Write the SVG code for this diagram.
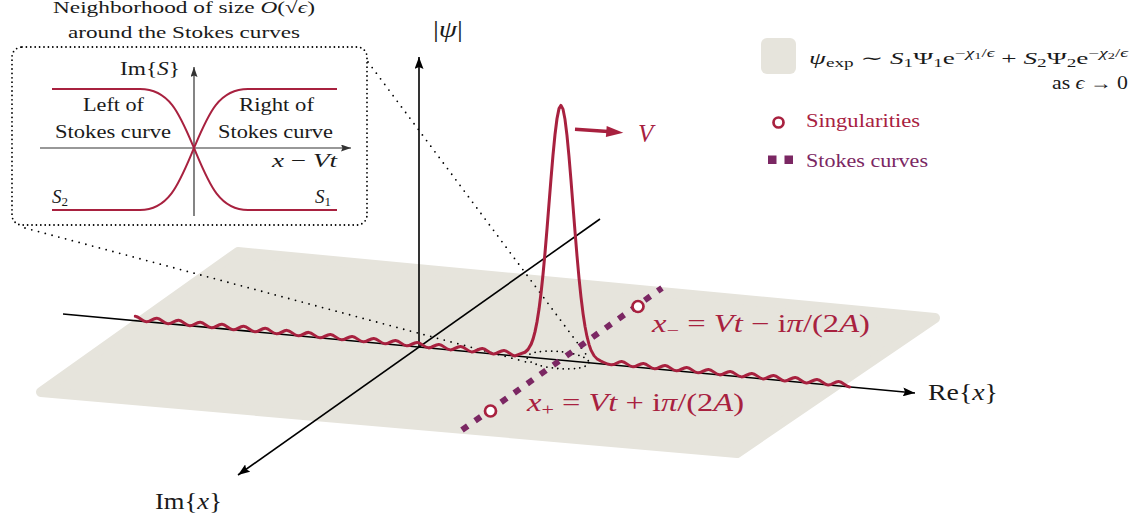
<svg xmlns="http://www.w3.org/2000/svg" width="1140" height="525" viewBox="0 0 1140 525">
<style>
text{font-family:"Liberation Serif","DejaVu Serif",serif;fill:#1a1a1a}
.it{font-style:italic}
.cr{fill:#a8213f}
.pu{fill:#7b2763}
.ax{stroke:#000;stroke-width:1.6;fill:none}
.iax{stroke:#333;stroke-width:1.2;fill:none}
.wave{stroke:#a8213f;stroke-width:3;fill:none;stroke-linejoin:round;stroke-linecap:round}
.icurve{stroke:#a8213f;stroke-width:2;fill:none}
.dots{stroke:#000;stroke-width:1.8;fill:none;stroke-linecap:round}
.sing{fill:#fff;stroke:#a8213f;stroke-width:2.7}
</style>
<defs>
<marker id="ah" viewBox="0 0 12 9" refX="12" refY="4.5" markerWidth="12" markerHeight="9" markerUnits="userSpaceOnUse" orient="auto"><path d="M0,0 L12,4.5 L0,9 L2,4.5 z" fill="#000"/></marker>
<marker id="ahs" viewBox="0 0 10 7" refX="10" refY="3.5" markerWidth="10" markerHeight="7" markerUnits="userSpaceOnUse" orient="auto"><path d="M0,0 L10,3.5 L0,7 L1.5,3.5 z" fill="#333"/></marker>
</defs>

<g id="plane">
<path d="M238,252 L935,318 L737,453 L41,392 Z" fill="#e6e4dc" stroke="#e6e4dc" stroke-width="10" stroke-linejoin="round"/>
</g>

<g id="zoom-lines">
<path class="dots" d="M368,62 L588,357" stroke-dasharray="0 7"/>
<path class="dots" d="M25,228 L530,363" stroke-dasharray="0 7"/>
<ellipse class="dots" cx="558" cy="360" rx="31" ry="8.5" transform="rotate(5 558 360)" stroke-dasharray="0 5.5"/>
</g>

<g id="axes">
<line class="ax" x1="63" y1="314" x2="915" y2="393" marker-end="url(#ah)"/>
<line class="ax" x1="419" y1="347" x2="419" y2="57" marker-end="url(#ah)"/>
<line class="ax" x1="600" y1="219" x2="238" y2="475" marker-end="url(#ah)"/>
<text x="928" y="400" font-size="24" textLength="70" lengthAdjust="spacingAndGlyphs">Re{<tspan class="it">x</tspan>}</text>
<text x="433" y="37" font-size="24" textLength="30" lengthAdjust="spacingAndGlyphs"><tspan>|</tspan><tspan class="it">ψ</tspan><tspan>|</tspan></text>
<text x="155" y="509" font-size="24" textLength="67" lengthAdjust="spacingAndGlyphs">Im{<tspan class="it">x</tspan>}</text>
</g>

<g id="wavefunction" transform="matrix(1 0.0927 0 1 63 314)">
<path class="wave" d="M72.3,-4.4 c3.95,0 6.9,4.4 10.85,4.4 s6.9,-4.4 10.85,-4.4 s6.9,4.4 10.85,4.4 s6.9,-4.4 10.85,-4.4 s6.9,4.4 10.85,4.4 s6.9,-4.4 10.85,-4.4 s6.9,4.4 10.85,4.4 s6.9,-4.4 10.85,-4.4 s6.9,4.4 10.85,4.4 s6.9,-4.4 10.85,-4.4 s6.9,4.4 10.85,4.4 s6.9,-4.4 10.85,-4.4 s6.9,4.4 10.85,4.4 s6.9,-4.4 10.85,-4.4 s6.9,4.4 10.85,4.4 s6.9,-4.4 10.85,-4.4 s6.9,4.4 10.85,4.4 s6.9,-4.4 10.85,-4.4 s6.9,4.4 10.85,4.4 s6.9,-4.4 10.85,-4.4 s6.9,4.4 10.85,4.4 s6.9,-4.4 10.85,-4.4 s6.9,4.4 10.85,4.4 s6.9,-4.4 10.85,-4.4 s6.9,4.4 10.85,4.4 s6.9,-4.4 10.85,-4.4 s6.9,4.4 10.85,4.4 s6.9,-4.4 10.85,-4.4 s6.9,4.4 10.85,4.4 s6.9,-4.4 10.85,-4.4 s6.9,4.4 10.85,4.4 s6.9,-4.4 10.85,-4.4 s6.9,4.4 10.85,4.4 s6.9,-4.4 10.85,-4.4 s6.9,4.4 10.85,4.4 L458,-2.8 L462,-4.6 L465,-7.6 L468,-12.9 L470,-18.4 L472,-26 L474,-36 L476,-48.9 L478,-64.9 L480,-83.9 L482,-105.8 L484,-129.9 L486,-155.3 L488,-180.6 L490,-204.4 L492,-225.1 L494,-241.1 L496,-251.3 L498,-254.8 L500,-251.3 L502,-241.1 L504,-225.1 L506,-204.4 L508,-180.6 L510,-155.3 L512,-129.9 L514,-105.8 L516,-83.9 L518,-64.9 L520,-48.9 L522,-36 L524,-26 L526,-18.4 L528,-12.9 L531,-7.6 L534,-4.6 L538,-2.8 C541,-1.8 543,0 548,0 s6.9,-4.4 10.85,-4.4 s6.9,4.4 10.85,4.4 s6.9,-4.4 10.85,-4.4 s6.9,4.4 10.85,4.4 s6.9,-4.4 10.85,-4.4 s6.9,4.4 10.85,4.4 s6.9,-4.4 10.85,-4.4 s6.9,4.4 10.85,4.4 s6.9,-4.4 10.85,-4.4 s6.9,4.4 10.85,4.4 s6.9,-4.4 10.85,-4.4 s6.9,4.4 10.85,4.4 s6.9,-4.4 10.85,-4.4 s6.9,4.4 10.85,4.4 s6.9,-4.4 10.85,-4.4 s6.9,4.4 10.85,4.4 s6.9,-4.4 10.85,-4.4 s6.9,4.4 10.85,4.4 s6.9,-4.4 10.85,-4.4 s6.9,4.4 10.85,4.4 s6.9,-4.4 10.85,-4.4 s6.9,4.4 10.85,4.4"/>
</g>

<g id="velocity">
<line x1="575" y1="129.3" x2="608" y2="131.6" stroke="#a8213f" stroke-width="3.5"/>
<polygon points="623.3,132.7 606.7,126 605.9,137" fill="#a8213f"/>
<text class="cr it" x="638" y="142" font-size="25">V</text>
</g>

<g id="stokes-curve">
<line x1="462" y1="430" x2="662" y2="288" stroke="#7b2763" stroke-width="6" stroke-dasharray="7 9"/>
</g>

<g id="singularity-minus">
<circle class="sing" cx="638" cy="306.5" r="5.5"/>
<text class="cr" x="652" y="332" font-size="25" textLength="218" lengthAdjust="spacingAndGlyphs"><tspan class="it">x</tspan><tspan font-size="17" dy="4">−</tspan><tspan dy="-4"> = </tspan><tspan class="it">Vt</tspan> − i<tspan class="it">π</tspan>/(2<tspan class="it">A</tspan>)</text>
</g>
<g id="singularity-plus">
<circle class="sing" cx="490.5" cy="411" r="5.5"/>
<text class="cr" x="527" y="411" font-size="25" textLength="217" lengthAdjust="spacingAndGlyphs"><tspan class="it">x</tspan><tspan font-size="17" dy="4">+</tspan><tspan dy="-4"> = </tspan><tspan class="it">Vt</tspan> + i<tspan class="it">π</tspan>/(2<tspan class="it">A</tspan>)</text>
</g>

<g id="inset">
<text x="53" y="13" font-size="17" textLength="262" lengthAdjust="spacingAndGlyphs">Neighborhood of size <tspan class="it">O</tspan>(√<tspan class="it">ϵ</tspan>)</text>
<text x="68" y="38" font-size="17" textLength="232" lengthAdjust="spacingAndGlyphs">around the Stokes curves</text>
<rect class="dots" x="12" y="47" width="355" height="178" rx="10" stroke-dasharray="0 4.4"/>
<line class="iax" x1="40" y1="148" x2="351" y2="148" marker-end="url(#ahs)"/>
<line class="iax" x1="194" y1="216" x2="194" y2="67" marker-end="url(#ahs)"/>
<path class="icurve" d="M52,89 L140,89 C170,89 180,115 194,148 S218,210 248,210 L337,210"/>
<path class="icurve" d="M52,210 L140,210 C170,210 180,181 194,148 S218,89 248,89 L337,89"/>
<text x="120" y="75" font-size="18" textLength="60" lengthAdjust="spacingAndGlyphs">Im{<tspan class="it">S</tspan>}</text>
<text x="83" y="111" font-size="18" textLength="61" lengthAdjust="spacingAndGlyphs">Left of</text>
<text x="55" y="138" font-size="18" textLength="116" lengthAdjust="spacingAndGlyphs">Stokes curve</text>
<text x="239" y="111" font-size="18" textLength="75" lengthAdjust="spacingAndGlyphs">Right of</text>
<text x="218" y="138" font-size="18" textLength="115" lengthAdjust="spacingAndGlyphs">Stokes curve</text>
<text x="272" y="167" font-size="19" textLength="65" lengthAdjust="spacingAndGlyphs"><tspan class="it">x</tspan> − <tspan class="it">Vt</tspan></text>
<text x="52" y="203" font-size="19"><tspan class="it">S</tspan><tspan font-size="13" dy="3">2</tspan></text>
<text x="315" y="203" font-size="19"><tspan class="it">S</tspan><tspan font-size="13" dy="3">1</tspan></text>
</g>

<g id="legend">
<rect x="761" y="38" width="35" height="36" rx="6" fill="#e6e4dc"/>
<text x="809" y="64" font-size="17" textLength="319" lengthAdjust="spacingAndGlyphs"><tspan class="it">ψ</tspan><tspan font-size="12" dy="3">exp</tspan><tspan dy="-3"> ∼ </tspan><tspan class="it">S</tspan><tspan font-size="12" dy="3">1</tspan><tspan dy="-3">Ψ</tspan><tspan font-size="12" dy="3">1</tspan><tspan dy="-3">e</tspan><tspan font-size="12" dy="-7">−</tspan><tspan font-size="12" class="it">χ</tspan><tspan font-size="9" dy="2">1</tspan><tspan font-size="12" dy="-2">/</tspan><tspan font-size="12" class="it">ϵ</tspan><tspan dy="7"> + </tspan><tspan class="it">S</tspan><tspan font-size="12" dy="3">2</tspan><tspan dy="-3">Ψ</tspan><tspan font-size="12" dy="3">2</tspan><tspan dy="-3">e</tspan><tspan font-size="12" dy="-7">−</tspan><tspan font-size="12" class="it">χ</tspan><tspan font-size="9" dy="2">2</tspan><tspan font-size="12" dy="-2">/</tspan><tspan font-size="12" class="it">ϵ</tspan></text>
<text x="1052" y="89" font-size="18" textLength="76" lengthAdjust="spacingAndGlyphs">as <tspan class="it">ϵ</tspan> → 0</text>
<circle class="sing" cx="778.5" cy="122.5" r="5"/>
<text class="cr" x="806" y="127" font-size="18" textLength="114" lengthAdjust="spacingAndGlyphs">Singularities</text>
<rect x="768" y="155.5" width="8.5" height="8.5" fill="#7b2763"/>
<rect x="784.5" y="155.5" width="8.5" height="8.5" fill="#7b2763"/>
<text class="pu" x="806" y="167" font-size="18" textLength="122" lengthAdjust="spacingAndGlyphs">Stokes curves</text>
</g>
</svg>
